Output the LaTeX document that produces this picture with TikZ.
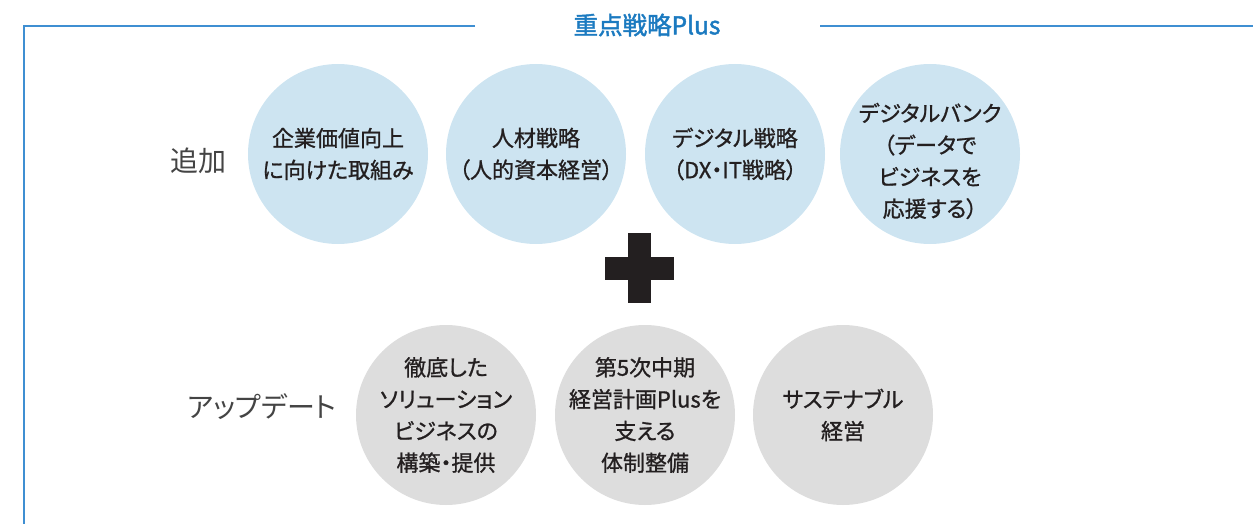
\documentclass[tikz,border=0pt]{standalone}
\usepackage{fontspec}
\newfontfamily\jp[RawFeature=+palt]{Noto Sans CJK JP}
\newfontfamily\jpmed[RawFeature=+palt,FakeBold=1]{Noto Sans CJK JP}
\newfontfamily\jpbold[RawFeature=+palt,FakeBold=1.8]{Noto Sans CJK JP}
\definecolor{frameblue}{HTML}{3F8FD2}
\definecolor{titleblue}{HTML}{1B7AC0}
\definecolor{lblue}{HTML}{CDE4F1}
\definecolor{lgray}{HTML}{DDDDDD}
\definecolor{ink}{HTML}{231F20}
\definecolor{labelgray}{HTML}{444444}
\tikzset{
  bubble/.style={circle, minimum size=180pt, inner sep=0pt},
  bubbletext/.style={inner sep=0pt, align=center, text=ink,
     font=\jpmed\fontsize{22}{31.8}\selectfont},
  addbubble/.style={bubble, fill=lblue},
  updbubble/.style={bubble, fill=lgray},
  rowlabel/.style={text=labelgray, font=\jp\fontsize{28}{32}\selectfont, inner sep=0pt},
  frameline/.style={draw=frameblue, line width=1.8pt},
}
\begin{document}
\begin{tikzpicture}[x=1pt,y=-1pt]
\useasboundingbox (0,0) rectangle (1253,524);
% frame
\coordinate (fl) at (475,26);
\coordinate (fc) at (24,26);
\coordinate (fb) at (24,524);
\coordinate (fr1) at (820,26);
\coordinate (fr2) at (1253,26);
\draw[frameline] (fl) -- (fc) -- (fb);
\draw[frameline] (fr1) -- (fr2);
\node[text=titleblue, font=\jpbold\fontsize{24.5}{28}\selectfont, inner sep=0pt] (title) at (647,25) {重点戦略Plus};
% row labels
\node[rowlabel] (add) at (198,161) {追加};
\node[rowlabel] (upd) at (262,407) {アップデート};
% top circles
\node[addbubble] (a1) at (338,154) {};
\node[addbubble] (a2) at (536,154) {};
\node[addbubble] (a3) at (735,154) {};
\node[addbubble] (a4) at (930,154) {};
\node[bubbletext] (a1t) at (a1) {企業価値向上\\に向けた取組み};
\node[bubbletext] (a2t) at (a2) {人材戦略\\（人的資本経営）};
\node[bubbletext] (a3t) at (a3) {デジタル戦略\\（DX・IT戦略）};
\node[bubbletext, yshift=-7pt] (a4t) at (a4) {デジタルバンク\\（データで\\ビジネスを\\応援する）};
% plus
\fill[ink] (605,257) rectangle (674,280);
\fill[ink] (628,233) rectangle (651,303);
% bottom circles
\node[updbubble] (u1) at (446,415) {};
\node[updbubble] (u2) at (645,415) {};
\node[updbubble] (u3) at (843,415) {};
\node[bubbletext] (u1t) at (u1) {徹底した\\ソリューション\\ビジネスの\\構築・提供};
\node[bubbletext] (u2t) at (u2) {第5次中期\\経営計画Plusを\\支える\\体制整備};
\node[bubbletext] (u3t) at (u3) {サステナブル\\経営};
\end{tikzpicture}
\end{document}
